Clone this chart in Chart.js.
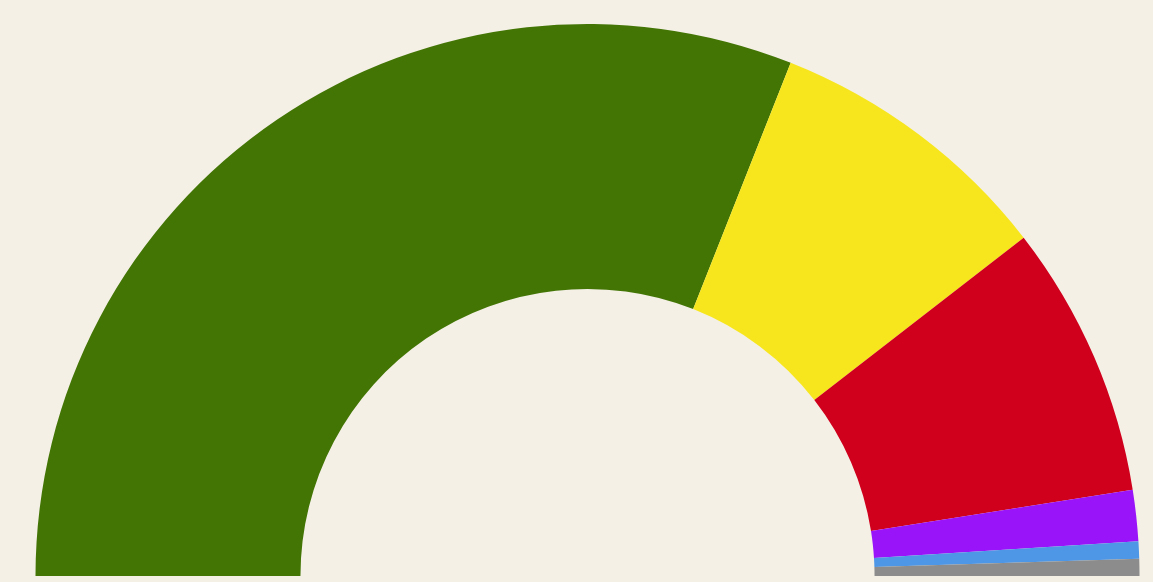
<!DOCTYPE html>
<html>
<head>
<meta charset="utf-8">
<script src="https://cdn.jsdelivr.net/npm/chart.js@4/dist/chart.umd.min.js"></script>
<style>
  html, body { margin: 0; padding: 0; background: #f4f0e6; }
  #wrap { width: 1153px; height: 582px; position: relative; }
</style>
</head>
<body>
<div id="wrap"><canvas id="seats"></canvas></div>
<script>
  var parties = ["Green", "Yellow", "Red", "Purple", "Blue", "Other"];
  var seats = [62, 17, 16, 3, 1, 1];
  var partyColors = ["#437505", "#f7e61e", "#d0001d", "#9a14fa", "#4e96e6", "#8c8c8c"];

  new Chart(document.getElementById("seats"), {
    type: "doughnut",
    data: {
      labels: parties,
      datasets: [{
        data: seats,
        backgroundColor: partyColors,
        borderWidth: 0
      }]
    },
    options: {
      responsive: true,
      maintainAspectRatio: false,
      animation: false,
      rotation: -90,
      circumference: 180,
      cutout: "52%",
      layout: { padding: { left: 35.5, right: 13.5, top: 24, bottom: 6 } },
      plugins: {
        legend: { display: false },
        tooltip: { enabled: false }
      }
    }
  });
</script>
</body>
</html>
